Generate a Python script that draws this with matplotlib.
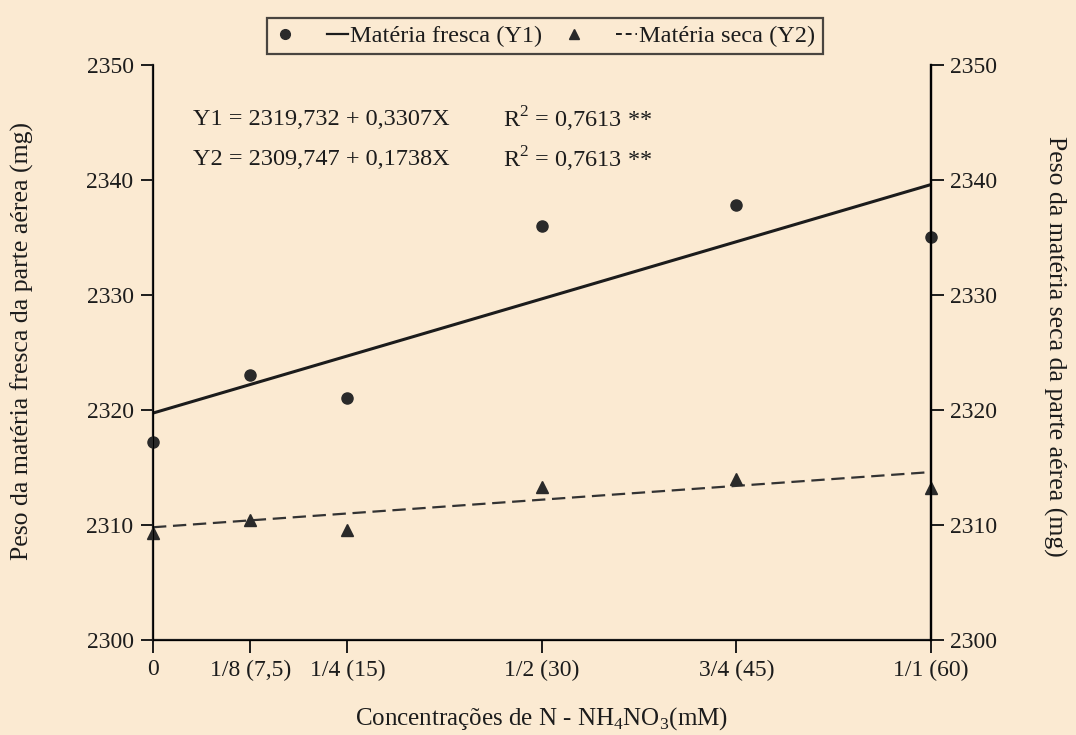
import numpy as np
import matplotlib
matplotlib.use('Agg')
import matplotlib.pyplot as plt
from matplotlib.lines import Line2D
from matplotlib.legend_handler import HandlerTuple

# data
x_conc = [0, 7.5, 15, 30, 45, 60]
x_labels = ['0', '1/8 (7,5)', '1/4 (15)', '1/2 (30)', '3/4 (45)', '1/1 (60)']
fresca = [2317.2, 2323.0, 2321.0, 2336.0, 2337.8, 2335.0]
seca = [2309.3, 2310.4, 2309.6, 2313.3, 2314.0, 2313.2]

# regression lines as drawn
fit_x = [0, 60]
fit_fresca = [2319.73, 2339.6]
fit_seca = [2309.8, 2314.6]

y_ticks = [2300, 2310, 2320, 2330, 2340, 2350]

bg = '#fbead2'
ink = '#1c1c1c'

plt.rcParams['font.family'] = ['Liberation Serif', 'DejaVu Serif']
plt.rcParams['mathtext.fontset'] = 'custom'
plt.rcParams['mathtext.rm'] = 'Liberation Serif'

fig = plt.figure(figsize=(10.76, 7.35), dpi=100, facecolor=bg)
ax = fig.add_axes([0.1422, 0.1293, 0.7230, 0.7823])
ax.set_facecolor(bg)

ax.plot(fit_x, fit_fresca, color=ink, lw=2.2, solid_capstyle='butt')
ax.plot(fit_x, fit_seca, color='#333333', lw=1.6, ls=(0, (6, 3)))
ax.plot(x_conc, fresca, 'o', color='#2a2a2a', ms=8, clip_on=False, zorder=5)
ax.plot(x_conc, seca, '^', color='#2a2a2a', ms=9, clip_on=False, zorder=5)

ax.set_xlim(0, 60)
ax.set_ylim(2300, 2350)
ax.set_xticks(x_conc)
ax.set_xticklabels(x_labels)
ax.set_yticks(y_ticks)
ax.spines['top'].set_visible(False)
for s in ['left', 'right', 'bottom']:
    ax.spines[s].set_linewidth(1.6)
    ax.spines[s].set_color(ink)
ax.tick_params(direction='out', length=9, width=1.4, colors=ink, labelsize=17, pad=5)

ax2 = ax.twinx()
ax2.set_ylim(2300, 2350)
ax2.set_yticks(y_ticks)
ax2.spines['top'].set_visible(False)
ax2.spines['right'].set_linewidth(1.6)
ax2.tick_params(direction='out', length=9, width=1.4, colors=ink, labelsize=17, pad=5)

ax.set_ylabel('Peso da matéria fresca da parte aérea (mg)', fontsize=18.5, color=ink,
              va='center', ha='center')
ax.yaxis.set_label_coords(-0.168, 0.52)
ax2.set_ylabel('Peso da matéria seca da parte aérea (mg)', fontsize=18.5, color=ink,
               rotation=-90, va='center', ha='center')
ax2.yaxis.set_label_coords(1.159, 0.51)
ax.set_xlabel('Concentrações de N - NH$_4$NO$_3$(mM)', fontsize=18, color=ink, labelpad=18)

eq_kw = dict(transform=ax.transAxes, fontsize=17.5, color=ink, va='center')
ax.text(0.052, 0.905, 'Y1 = 2319,732 + 0,3307X', **eq_kw)
ax.text(0.450, 0.905, 'R$^2$ = 0,7613 **', **eq_kw)
ax.text(0.052, 0.835, 'Y2 = 2309,747 + 0,1738X', **eq_kw)
ax.text(0.450, 0.835, 'R$^2$ = 0,7613 **', **eq_kw)

h_circ = Line2D([], [], marker='o', ls='none', color='#2a2a2a', ms=7)
h_solid = Line2D([], [], color=ink, lw=1.6)
h_tri = Line2D([], [], marker='^', ls='none', color='#2a2a2a', ms=7)
h_dash = Line2D([], [], color=ink, lw=1.4, ls=(0, (3, 2)))
leg = fig.legend([(h_circ, h_solid), (h_tri, h_dash)],
                 ['Matéria fresca (Y1)', 'Matéria seca (Y2)'],
                 handler_map={tuple: HandlerTuple(ndivide=None, pad=1.3)},
                 ncol=2, loc='center', bbox_to_anchor=(0.5065, 0.951),
                 fontsize=17.5, frameon=True, fancybox=False, handlelength=3.0,
                 handletextpad=0.1, columnspacing=0.9, borderpad=0.3)
leg.get_frame().set_edgecolor(ink)
leg.get_frame().set_linewidth(1.6)
leg.get_frame().set_facecolor(bg)
for t in leg.get_texts():
    t.set_color(ink)

fig.savefig('out.png', dpi=100, facecolor=bg)
